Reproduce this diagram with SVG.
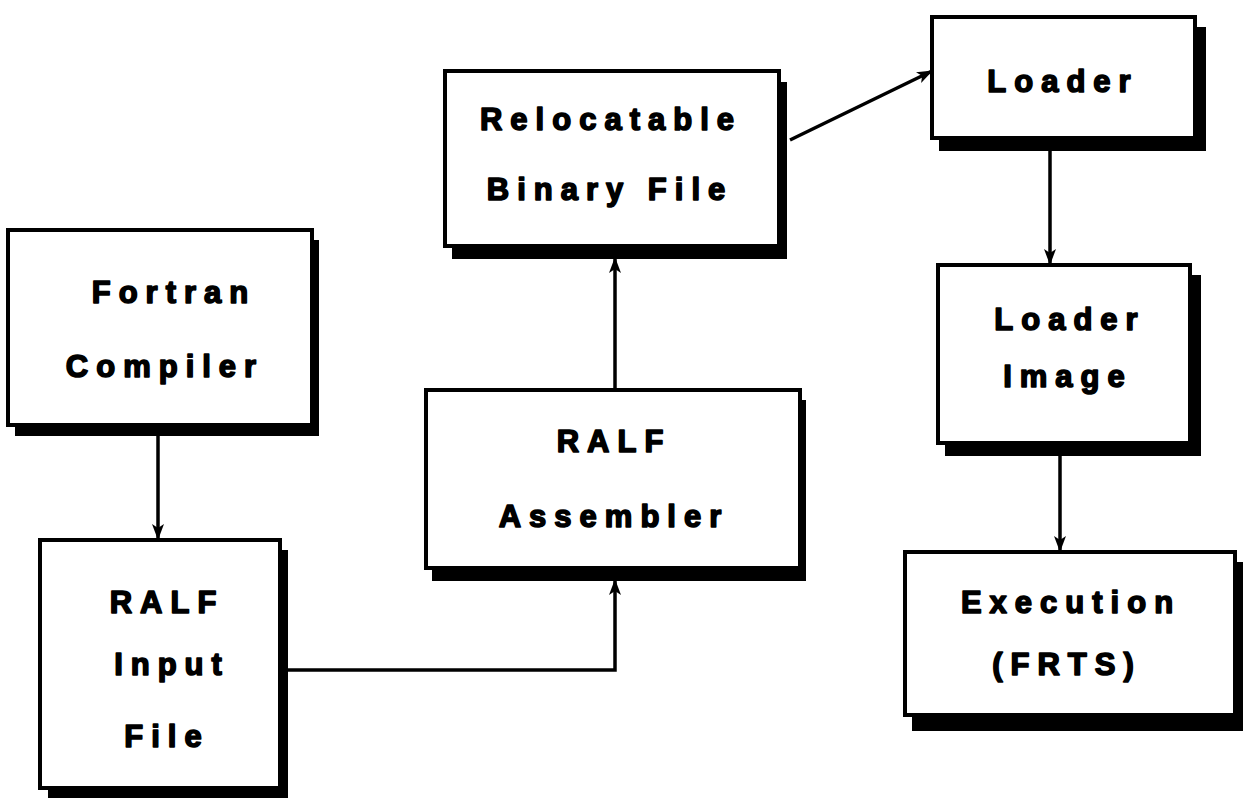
<svg xmlns="http://www.w3.org/2000/svg" width="1243" height="798" viewBox="0 0 1243 798">
<defs>
<style>
.box{fill:#fff;stroke:#000;stroke-width:4}
.sh{fill:#000}
.t{font-family:"Liberation Sans",Arial,sans-serif;font-weight:bold;font-size:31px;letter-spacing:8px;text-anchor:middle;fill:#000;stroke:#000;stroke-width:1.6;stroke-linejoin:round}
.c{fill:none;stroke:#000;stroke-width:3.5}
</style>
<marker id="ah" viewBox="0 0 16 14" refX="15" refY="7" markerWidth="16" markerHeight="14" markerUnits="userSpaceOnUse" orient="auto">
<path d="M0,1 L16,7 L0,13 L4,7 Z" fill="#000"/>
</marker>
</defs>
<g id="connectors">
<path class="c" d="M158,433 L158,539" marker-end="url(#ah)"/>
<path class="c" d="M287,670 L615,670 L615,580" marker-end="url(#ah)"/>
<path class="c" d="M615,389 L615,258" marker-end="url(#ah)"/>
<path class="c" d="M790,140 L932,71" marker-end="url(#ah)"/>
<path class="c" d="M1050,150 L1050,264" marker-end="url(#ah)"/>
<path class="c" d="M1060,455 L1060,551" marker-end="url(#ah)"/>
</g>
<g id="fortran">
<rect class="sh" x="15" y="240" width="304" height="196"/>
<rect class="box" x="8" y="230" width="304" height="195"/>
<text class="t" x="174" y="303">Fortran</text>
<text class="t" x="165" y="377">Compiler</text>
</g>
<g id="ralf-input">
<rect class="sh" x="48" y="550" width="240" height="248"/>
<rect class="box" x="40" y="540" width="240" height="248"/>
<text class="t" x="167" y="613">RALF</text>
<text class="t" x="172" y="675">Input</text>
<text class="t" x="167" y="747">File</text>
</g>
<g id="ralf-assembler">
<rect class="sh" x="432" y="400" width="374" height="181"/>
<rect class="box" x="426" y="390" width="374" height="178"/>
<text class="t" x="614" y="452">RALF</text>
<text class="t" x="614" y="527">Assembler</text>
</g>
<g id="relocatable">
<rect class="sh" x="452" y="82" width="335" height="177"/>
<rect class="box" x="445" y="71" width="334" height="175"/>
<text class="t" x="611" y="130">Relocatable</text>
<text class="t" x="610" y="200">Binary File</text>
</g>
<g id="loader">
<rect class="sh" x="939" y="27" width="267" height="124"/>
<rect class="box" x="932" y="17" width="263" height="121"/>
<text class="t" x="1063" y="92">Loader</text>
</g>
<g id="loader-image">
<rect class="sh" x="945" y="275" width="256" height="181"/>
<rect class="box" x="938" y="265" width="252" height="178"/>
<text class="t" x="1070" y="330">Loader</text>
<text class="t" x="1068" y="387">Image</text>
</g>
<g id="execution">
<rect class="sh" x="912" y="562" width="331" height="169"/>
<rect class="box" x="905" y="552" width="330" height="163"/>
<text class="t" x="1071" y="613">Execution</text>
<text class="t" x="1067" y="675">(FRTS)</text>
</g>
</svg>
